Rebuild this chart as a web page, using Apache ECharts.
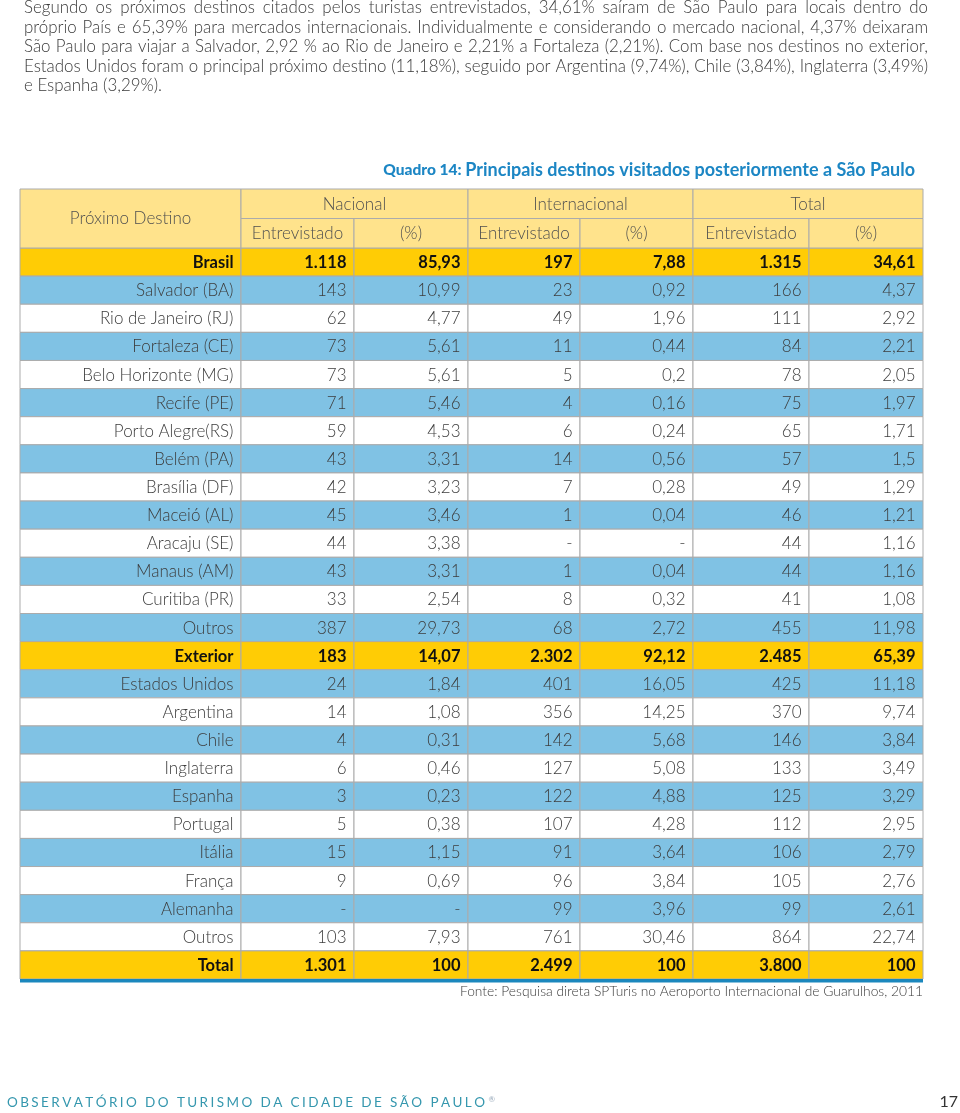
<!DOCTYPE html>
<html><head><meta charset="utf-8">
<script src="https://cdn.jsdelivr.net/npm/echarts@6/dist/echarts.min.js"></script>
<style>html,body{margin:0;padding:0;background:#fff}#c{width:960px;height:1113px}</style>
</head><body><div id="c"></div>
<script>
// ---------------- DATA ----------------
const destinos = ['Brasil','Salvador (BA)','Rio de Janeiro (RJ)','Fortaleza (CE)','Belo Horizonte (MG)','Recife (PE)','Porto Alegre(RS)','Belém (PA)','Brasília (DF)','Maceió (AL)','Aracaju (SE)','Manaus (AM)','Curitiba (PR)','Outros','Exterior','Estados Unidos','Argentina','Chile','Inglaterra','Espanha','Portugal','Itália','França','Alemanha','Outros','Total'];
const nacEntrev = [1118,143,62,73,73,71,59,43,42,45,44,43,33,387,183,24,14,4,6,3,5,15,9,null,103,1301];
const nacPct    = [85.93,10.99,4.77,5.61,5.61,5.46,4.53,3.31,3.23,3.46,3.38,3.31,2.54,29.73,14.07,1.84,1.08,0.31,0.46,0.23,0.38,1.15,0.69,null,7.93,100];
const intEntrev = [197,23,49,11,5,4,6,14,7,1,null,1,8,68,2302,401,356,142,127,122,107,91,96,99,761,2499];
const intPct    = [7.88,0.92,1.96,0.44,0.2,0.16,0.24,0.56,0.28,0.04,null,0.04,0.32,2.72,92.12,16.05,14.25,5.68,5.08,4.88,4.28,3.64,3.84,3.96,30.46,100];
const totEntrev = [1315,166,111,84,78,75,65,57,49,46,44,44,41,455,2485,425,370,146,133,125,112,106,105,99,864,3800];
const totPct    = [34.61,4.37,2.92,2.21,2.05,1.97,1.71,1.5,1.29,1.21,1.16,1.16,1.08,11.98,65.39,11.18,9.74,3.84,3.49,3.29,2.95,2.79,2.76,2.61,22.74,100];
const groupRows = [0,14,25]; // Brasil, Exterior, Total (highlighted rows)

const headerTop = ['Nacional','Internacional','Total'];
const headerSub = ['Entrevistado','(%)'];
const headerFirst = 'Próximo Destino';

const titleLead = 'Quadro 14: ';
const titleMain = 'Principais destinos visitados posteriormente a São Paulo';
const sourceText = 'Fonte: Pesquisa direta SPTuris no Aeroporto Internacional de Guarulhos, 2011';
const paragraph = [
 'Segundo os próximos destinos citados pelos turistas entrevistados, 34,61% saíram de São Paulo para locais dentro do',
 'próprio País e 65,39% para mercados internacionais. Individualmente e considerando o mercado nacional, 4,37% deixaram',
 'São Paulo para viajar a Salvador, 2,92 % ao Rio de Janeiro e 2,21% a Fortaleza (2,21%). Com base nos destinos no exterior,',
 'Estados Unidos foram o principal próximo destino (11,18%), seguido por Argentina (9,74%), Chile (3,84%), Inglaterra (3,49%)',
 'e Espanha (3,29%).'
];
const footerText = 'OBSERVATÓRIO DO TURISMO DA CIDADE DE SÃO PAULO';
const pageNumber = '17';

// ---------------- LAYOUT / STYLE ----------------
const colWidths = [221,113,114,112,113,116,114];
const colEdges = colWidths.reduce((a,w)=>{a.push(a[a.length-1]+w);return a;},[0]);
const FONT = 'Lato';
const C = {
  header:'#FFE38C', gold:'#FFCC05', blue:'#80C2E4', white:'#FFFFFF',
  grid:'#ABABAB', text:'#3C3C3C', bold:'#111111', title:'#1C86C4',
  rule:'#1B87BD', footer:'#3597AE'
};

function fmtInt(n){ return n==null?'-':String(n).replace(/\B(?=(\d{3})+(?!\d))/g,'.'); }
function fmtPct(n){ return n==null?'-':String(n).replace('.',','); }

const rowCells = destinos.map((d,i)=>[d,fmtInt(nacEntrev[i]),fmtPct(nacPct[i]),fmtInt(intEntrev[i]),fmtPct(intPct[i]),fmtInt(totEntrev[i]),fmtPct(totPct[i])]);
function rowFill(i){
  if(groupRows.includes(i)) return C.gold;
  let g = 0; for(const r of groupRows){ if(r<i) g=r; }
  return ((i-g-1)%2===0)?C.blue:C.white;
}

const bodyData = [];
destinos.forEach((d,r)=>{ for(let c=0;c<7;c++) bodyData.push([c,r]); });

const headerData = [
  [0,1,0,1,headerFirst],
  [1,3,0,0,headerTop[0]],[3,5,0,0,headerTop[1]],[5,7,0,0,headerTop[2]],
  [1,2,1,1,headerSub[0]],[2,3,1,1,headerSub[1]],
  [3,4,1,1,headerSub[0]],[4,5,1,1,headerSub[1]],
  [5,6,1,1,headerSub[0]],[6,7,1,1,headerSub[1]]
];

// text measuring for justification
const mctx = document.createElement('canvas').getContext('2d');
function mw(t,font){ mctx.font=font; return mctx.measureText(t).width; }

function paragraphEls(){
  const fs=16.9, font=`300 ${fs}px ${FONT}`, x0=24, x1=928, y0=8, lh=19.5;
  const els=[];
  paragraph.forEach((line,li)=>{
    const y=y0+li*lh;
    const words=line.split(' ');
    const justify = li<paragraph.length-1;
    const ws=words.map(w=>mw(w,font));
    const tot=ws.reduce((a,b)=>a+b,0);
    const gap = justify ? (x1-x0-tot)/(words.length-1) : mw(' ',font);
    let x=x0;
    words.forEach((w,i)=>{
      els.push({type:'text',x:x,y:y,silent:true,style:{text:w,fill:'#3a3a3a',fontSize:fs,fontFamily:FONT,fontWeight:300,textAlign:'left',align:'left',textVerticalAlign:'middle',verticalAlign:'middle'}});
      x+=ws[i]+gap;
    });
  });
  return els;
}

function footerEls(){
  const fs=13.5, font=`normal ${fs}px ${FONT}`, x0=7, x1=485, y=1103;
  const chars=[...footerText];
  const ws=chars.map(ch=>mw(ch,font));
  const tot=ws.reduce((a,b)=>a+b,0);
  const sp=(x1-x0-tot)/(chars.length-1);
  const els=[]; let x=x0;
  chars.forEach((ch,i)=>{
    if(ch!==' ') els.push({type:'text',x:x,y:y,silent:true,style:{text:ch,fill:C.footer,fontSize:fs,fontFamily:FONT,textAlign:'left',align:'left',textVerticalAlign:'middle',verticalAlign:'middle'}});
    x+=ws[i]+sp;
  });
  els.push({type:'text',x:x+1,y:y-4,silent:true,style:{text:'®',fill:'#9ab',fontSize:8,fontFamily:FONT,textAlign:'left',align:'left',textVerticalAlign:'middle',verticalAlign:'middle'}});
  return els;
}

const chart = echarts.init(document.getElementById('c'),null,{renderer:'canvas'});
const tableW = colEdges[colEdges.length-1];

const option = {
  animation:false,
  backgroundColor:'#fff',
  grid:[
    {left:20, top:248, width:tableW, height:731},
    {left:20, top:189, width:tableW, height:59}
  ],
  xAxis:[
    {type:'value',gridIndex:0,min:0,max:tableW,show:false},
    {type:'value',gridIndex:1,min:0,max:tableW,show:false}
  ],
  yAxis:[
    {type:'category',gridIndex:0,data:destinos,inverse:true,show:false},
    {type:'category',gridIndex:1,data:['h0','h1'],inverse:true,show:false}
  ],
  series:[
    {
      type:'custom', xAxisIndex:0, yAxisIndex:0, clip:false, silent:true,
      data:bodyData,
      renderItem:function(params,api){
        const c=api.value(0), r=api.value(1);
        const xa=api.coord([colEdges[c],r])[0], xb=api.coord([colEdges[c+1],r])[0];
        const yc=api.coord([0,r])[1], h=api.size([0,1])[1];
        const isG=groupRows.includes(r);
        const children=[
          {type:'rect',shape:{x:xa,y:yc-h/2,width:xb-xa,height:h},style:{fill:rowFill(r),stroke:C.grid,lineWidth:1}},
          {type:'text',style:{text:rowCells[r][c],x:xb-7.5,y:yc+0.5,textAlign:'right',align:'right',textVerticalAlign:'middle',verticalAlign:'middle',fill:isG?C.bold:C.text,fontSize:isG?16.5:17,fontFamily:FONT,fontWeight:isG?'bold':300}}
        ];
        if(r===destinos.length-1){
          children.push({type:'rect',shape:{x:xa,y:yc+h/2,width:xb-xa,height:3.5},style:{fill:C.rule}});
        }
        return {type:'group',children:children};
      }
    },
    {
      type:'custom', xAxisIndex:1, yAxisIndex:1, clip:false, silent:true,
      data:headerData,
      renderItem:function(params,api){
        const c0=api.value(0), c1=api.value(1), r0=api.value(2), r1=api.value(3);
        const xa=api.coord([colEdges[c0],r0])[0], xb=api.coord([colEdges[c1],r0])[0];
        const h=api.size([0,1])[1];
        const ya=api.coord([0,r0])[1]-h/2, yb=api.coord([0,r1])[1]+h/2;
        const txt=headerData[params.dataIndex][4];
        return {type:'group',children:[
          {type:'rect',shape:{x:xa,y:ya,width:xb-xa,height:yb-ya},style:{fill:C.header,stroke:C.grid,lineWidth:1}},
          {type:'text',style:{text:txt,x:(xa+xb)/2,y:(ya+yb)/2+0.5,textAlign:'center',align:'center',textVerticalAlign:'middle',verticalAlign:'middle',fill:'#505050',fontSize:17,fontFamily:FONT,fontWeight:300}}
        ]};
      }
    }
  ],
  graphic:[
    ...paragraphEls(),
    {type:'text',right:45,top:161,silent:true,style:{
      text:'{a|'+titleLead+'}{b|'+titleMain+'}',
      rich:{a:{fontSize:15.5,fontWeight:900,fontFamily:FONT,fill:C.title,color:C.title},b:{fontSize:18,fontWeight:'bold',fontFamily:FONT,fill:C.title,color:C.title}}
    }},
    {type:'text',right:37,top:985,silent:true,style:{text:sourceText,fill:'#3a3a3a',fontSize:13.8,fontFamily:FONT,fontWeight:300}},
    ...footerEls(),
    {type:'text',right:2,top:1094,silent:true,style:{text:pageNumber,fill:'#333',fontSize:16,fontFamily:FONT}}
  ]
};
chart.setOption(option);
</script></body></html>
